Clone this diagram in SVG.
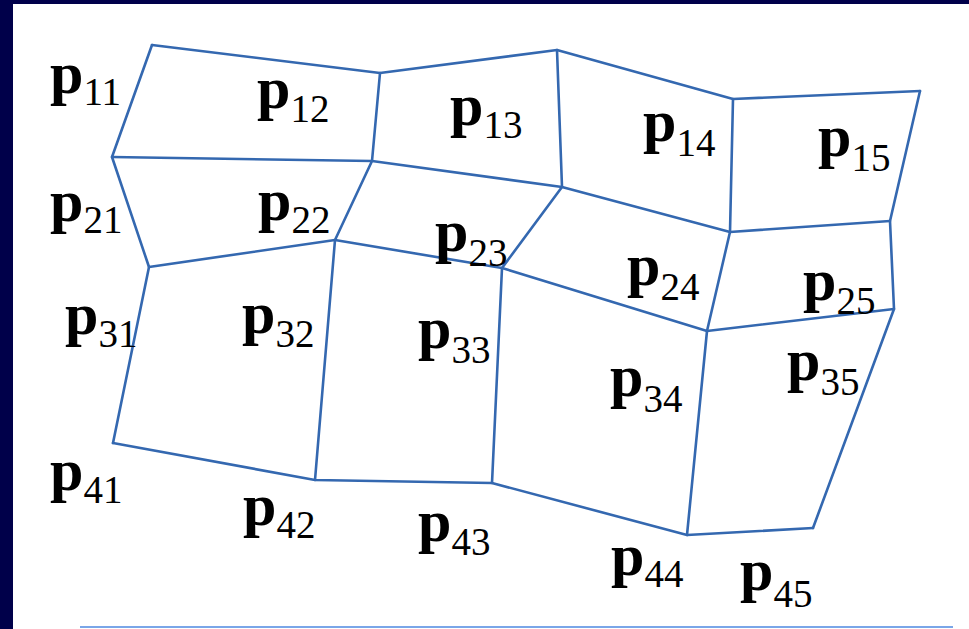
<svg xmlns="http://www.w3.org/2000/svg" width="969" height="629" viewBox="0 0 969 629">
<style>
.mesh{fill:none;stroke:#3468b0;stroke-width:2.6;stroke-linejoin:round;stroke-linecap:round}
.lbl{font-family:"Liberation Serif","Times New Roman",serif;font-size:60px;font-weight:bold;fill:#000}
.sub{font-size:39px;font-weight:normal}
</style>
<rect x="0" y="0" width="969" height="629" fill="#00004a"/>
<rect x="13" y="4" width="956" height="625" fill="#ffffff"/>
<line x1="80" y1="627" x2="953" y2="627" stroke="#7aa6e8" stroke-width="2"/>
<g id="connectors" class="mesh">
<polyline points="152,45 380,73 557,50 733,99 920,91"/>
<polyline points="112,157 372,161 562,187 730,232 890,221"/>
<polyline points="149,267 335,240 502,268 707,331 894,309"/>
<polyline points="113,443 315,480 492,483 687,535 813,528"/>
<polyline points="152,45 112,157 149,267 113,443"/>
<polyline points="380,73 372,161 335,240 315,480"/>
<polyline points="557,50 562,187 502,268 492,483"/>
<polyline points="733,99 730,232 707,331 687,535"/>
<polyline points="920,91 890,221 894,309 813,528"/>
</g>
<g id="p11"><text class="lbl" x="50" y="93">p<tspan class="sub" dy="12">11</tspan></text></g>
<g id="p12"><text class="lbl" x="257" y="108">p<tspan class="sub" dy="14">12</tspan></text></g>
<g id="p13"><text class="lbl" x="450" y="125">p<tspan class="sub" dy="13">13</tspan></text></g>
<g id="p14"><text class="lbl" x="643" y="141">p<tspan class="sub" dy="15">14</tspan></text></g>
<g id="p15"><text class="lbl" x="818" y="156">p<tspan class="sub" dy="15">15</tspan></text></g>
<g id="p21"><text class="lbl" x="50" y="221">p<tspan class="sub" dy="12">21</tspan></text></g>
<g id="p22"><text class="lbl" x="258" y="220">p<tspan class="sub" dy="13">22</tspan></text></g>
<g id="p23"><text class="lbl" x="435" y="251">p<tspan class="sub" dy="15">23</tspan></text></g>
<g id="p24"><text class="lbl" x="627" y="285">p<tspan class="sub" dy="15">24</tspan></text></g>
<g id="p25"><text class="lbl" x="803" y="300">p<tspan class="sub" dy="14">25</tspan></text></g>
<g id="p31"><text class="lbl" x="65" y="334">p<tspan class="sub" dy="13">31</tspan></text></g>
<g id="p32"><text class="lbl" x="242" y="333">p<tspan class="sub" dy="14">32</tspan></text></g>
<g id="p33"><text class="lbl" x="418" y="348">p<tspan class="sub" dy="15">33</tspan></text></g>
<g id="p34"><text class="lbl" x="610" y="396">p<tspan class="sub" dy="16">34</tspan></text></g>
<g id="p35"><text class="lbl" x="787" y="380">p<tspan class="sub" dy="15">35</tspan></text></g>
<g id="p41"><text class="lbl" x="50" y="490">p<tspan class="sub" dy="13">41</tspan></text></g>
<g id="p42"><text class="lbl" x="243" y="525">p<tspan class="sub" dy="13">42</tspan></text></g>
<g id="p43"><text class="lbl" x="418" y="541">p<tspan class="sub" dy="14">43</tspan></text></g>
<g id="p44"><text class="lbl" x="611" y="575">p<tspan class="sub" dy="12">44</tspan></text></g>
<g id="p45"><text class="lbl" x="740" y="590">p<tspan class="sub" dy="17">45</tspan></text></g>
</svg>
